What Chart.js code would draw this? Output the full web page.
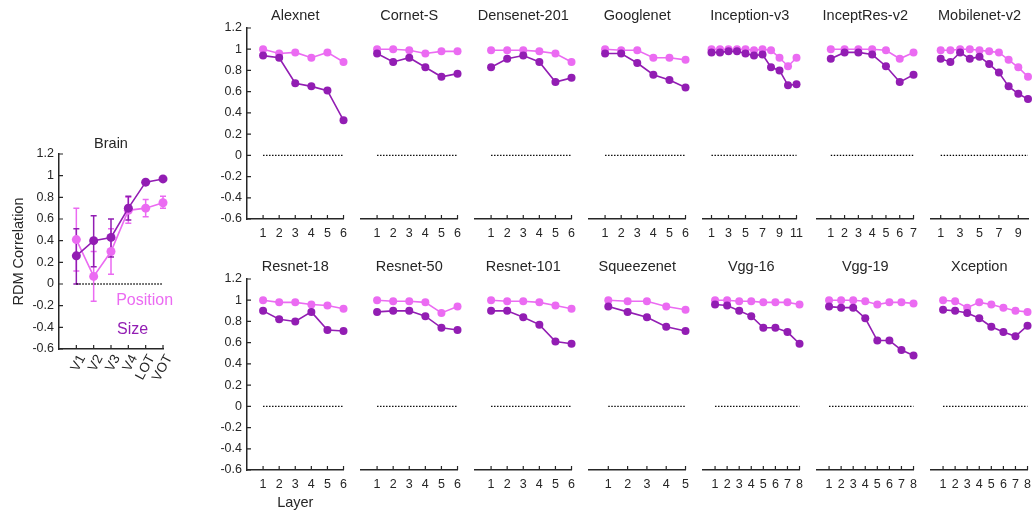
<!DOCTYPE html>
<html>
<head>
<meta charset="utf-8">
<script src="https://cdn.jsdelivr.net/npm/chart.js@4.4.1/dist/chart.umd.min.js"></script>
<style>
  html, body { margin: 0; padding: 0; background: #fff; overflow: hidden; }
  #fig { position: relative; width: 1034px; height: 512px; }
  #fig canvas { position: absolute; }
</style>
</head>
<body>
<div id="fig"></div>
<script>
// brain ROIs
const brainRegions = ['V1', 'V2', 'V3', 'V4', 'LOT', 'VOT'];
const brainPosition = [0.41, 0.07, 0.30, 0.68, 0.70, 0.75];
const brainPositionLo = [0.12, -0.16, 0.09, 0.56, 0.62, 0.70];
const brainPositionHi = [0.70, 0.30, 0.51, 0.80, 0.78, 0.81];
const brainSize = [0.26, 0.40, 0.43, 0.70, 0.94, 0.97];
const brainSizeLo = [0.00, 0.16, 0.25, 0.59, null, null];
const brainSizeHi = [0.51, 0.63, 0.60, 0.81, null, null];

// networks, top row then bottom row
const netNames = ['Alexnet', 'Cornet-S', 'Densenet-201', 'Googlenet', 'Inception-v3', 'InceptRes-v2', 'Mobilenet-v2',
  'Resnet-18', 'Resnet-50', 'Resnet-101', 'Squeezenet', 'Vgg-16', 'Vgg-19', 'Xception'];
const netTickStep = [1, 1, 1, 1, 2, 1, 2, 1, 1, 1, 1, 1, 1, 1];
const netPosition = [
  [1.00, 0.96, 0.97, 0.92, 0.97, 0.88],
  [1.00, 1.00, 0.99, 0.96, 0.98, 0.98],
  [0.99, 0.99, 0.99, 0.98, 0.96, 0.88],
  [1.00, 0.99, 0.99, 0.92, 0.92, 0.90],
  [1.00, 1.00, 1.00, 1.00, 1.00, 0.99, 1.00, 0.99, 0.92, 0.84, 0.92],
  [1.00, 1.00, 1.00, 1.00, 0.99, 0.91, 0.97],
  [0.99, 0.99, 1.00, 1.00, 0.99, 0.98, 0.97, 0.90, 0.83, 0.74],
  [1.00, 0.98, 0.98, 0.96, 0.95, 0.92],
  [1.00, 0.99, 0.99, 0.98, 0.88, 0.94],
  [1.00, 0.99, 0.99, 0.98, 0.95, 0.92],
  [1.00, 0.99, 0.99, 0.94, 0.91],
  [1.00, 1.00, 0.99, 0.99, 0.98, 0.98, 0.98, 0.96],
  [1.00, 1.00, 1.00, 0.99, 0.96, 0.98, 0.98, 0.97],
  [1.00, 0.99, 0.93, 0.98, 0.96, 0.93, 0.90, 0.89]
];
const netSize = [
  [0.94, 0.92, 0.68, 0.65, 0.61, 0.33],
  [0.96, 0.88, 0.92, 0.83, 0.74, 0.77],
  [0.83, 0.91, 0.94, 0.88, 0.69, 0.73],
  [0.96, 0.96, 0.87, 0.76, 0.71, 0.64],
  [0.97, 0.97, 0.98, 0.98, 0.96, 0.94, 0.95, 0.83, 0.80, 0.66, 0.67],
  [0.91, 0.97, 0.97, 0.95, 0.84, 0.69, 0.76],
  [0.91, 0.88, 0.97, 0.91, 0.93, 0.86, 0.78, 0.65, 0.58, 0.53],
  [0.90, 0.82, 0.80, 0.89, 0.72, 0.71],
  [0.89, 0.90, 0.90, 0.85, 0.74, 0.72],
  [0.90, 0.90, 0.84, 0.77, 0.61, 0.59],
  [0.94, 0.89, 0.84, 0.75, 0.71],
  [0.96, 0.95, 0.90, 0.85, 0.74, 0.74, 0.70, 0.59],
  [0.94, 0.93, 0.93, 0.83, 0.62, 0.62, 0.53, 0.48],
  [0.91, 0.90, 0.88, 0.83, 0.75, 0.70, 0.66, 0.76]
];

const PINK = '#eb6bf2', PURPLE = '#921db3', INK = '#262626';
const FONT = '"Liberation Sans", Arial, sans-serif';
const fig = document.getElementById('fig');

const pts = vals => vals.map((v, i) => ({ x: i + 1, y: v }));
const fmt = v => { const r = Math.round(v * 10) / 10; return r === 0 ? '0' : String(r); };

// titles, inward tick marks, error bars and in-plot labels
const deco = {
  id: 'deco',
  beforeDatasetsDraw(chart, args, o) {
    if (!o.errors) return;
    const { ctx, scales: { x, y } } = chart;
    ctx.save();
    ctx.lineWidth = 1.5;
    o.errors.forEach(e => {
      ctx.strokeStyle = e.color;
      e.lo.forEach((lo, i) => {
        if (lo == null) return;
        const px = x.getPixelForValue(i + 1), p0 = y.getPixelForValue(lo), p1 = y.getPixelForValue(e.hi[i]);
        ctx.beginPath();
        ctx.moveTo(px, p0); ctx.lineTo(px, p1);
        ctx.moveTo(px - 3, p0); ctx.lineTo(px + 3, p0);
        ctx.moveTo(px - 3, p1); ctx.lineTo(px + 3, p1);
        ctx.stroke();
      });
    });
    ctx.restore();
  },
  afterDraw(chart, args, o) {
    const { ctx, chartArea: a, scales: { x, y } } = chart;
    ctx.save();
    ctx.strokeStyle = INK; ctx.lineWidth = 1.2;
    ctx.beginPath();
    x.ticks.forEach(t => { const px = x.getPixelForValue(t.value); ctx.moveTo(px, a.bottom); ctx.lineTo(px, a.bottom - 4); });
    if (o.yAxis) y.ticks.forEach(t => { const py = y.getPixelForValue(t.value); ctx.moveTo(a.left, py); ctx.lineTo(a.left + 4, py); });
    ctx.stroke();
    ctx.fillStyle = INK; ctx.textAlign = 'center'; ctx.textBaseline = 'middle';
    ctx.font = `14.5px ${FONT}`;
    ctx.fillText(o.title, (a.left + a.right) / 2, a.top - o.titleGap);
    (o.notes || []).forEach(n => {
      ctx.fillStyle = n.color; ctx.textAlign = 'left'; ctx.font = `16px ${FONT}`;
      ctx.fillText(n.text, x.getPixelForValue(n.x), y.getPixelForValue(n.y));
    });
    ctx.restore();
  }
};

function panel(g, cfg) {
  const c = document.createElement('canvas');
  c.width = g.padL + g.w + g.padR;
  c.height = g.padT + g.h + g.axisH;
  c.style.left = (g.left - g.padL) + 'px';
  c.style.top = (g.top - g.padT) + 'px';
  fig.appendChild(c);
  const n = cfg.n;
  const line = (vals, color, r) => ({
    data: pts(vals), borderColor: color, backgroundColor: color,
    borderWidth: 1.6, pointRadius: r, pointBorderWidth: 0, tension: 0, clip: false
  });
  new Chart(c, {
    type: 'line',
    data: {
      datasets: [
        line(cfg.size, PURPLE, cfg.r),
        line(cfg.position, PINK, cfg.r),
        { data: [{ x: 1, y: 0 }, { x: n, y: 0 }], borderColor: '#000', borderWidth: 1.4,
          borderDash: [1.4, 1.6], pointRadius: 0, clip: false }
      ]
    },
    options: {
      responsive: false, animation: false, events: [],
      layout: { padding: { left: 0, top: g.padT, right: g.padR, bottom: 0 } },
      plugins: {
        legend: { display: false }, tooltip: { enabled: false },
        deco: { title: cfg.title, titleGap: cfg.titleGap, yAxis: cfg.yAxis, errors: cfg.errors, notes: cfg.notes }
      },
      scales: {
        x: {
          type: 'linear', min: 0, max: n,
          afterBuildTicks: s => { s.ticks = cfg.ticks.map(v => ({ value: v })); },
          afterFit: s => { s.height = g.axisH; },
          grid: { display: false, drawTicks: false },
          border: { display: true, color: INK, width: 1.5 },
          ticks: {
            autoSkip: false, minRotation: cfg.rot, maxRotation: cfg.rot, padding: cfg.rot ? 3 : 7,
            labelOffset: cfg.rot ? 6 : 0,
            color: INK, font: { family: FONT, size: cfg.rot ? 13.5 : 12.5 }, callback: cfg.tickLabel
          },
          title: cfg.xTitle ? { display: true, text: cfg.xTitle, color: INK, font: { family: FONT, size: 14.5 }, padding: 0 } : { display: false }
        },
        y: {
          min: -0.6, max: 1.2,
          afterFit: s => { s.width = g.padL; },
          grid: { display: false, drawTicks: false },
          border: { display: cfg.yAxis, color: INK, width: 1.5 },
          ticks: { display: cfg.yAxis, stepSize: 0.2, padding: 5, color: INK, font: { family: FONT, size: 12.5 }, callback: fmt },
          title: cfg.yTitle ? { display: true, text: cfg.yTitle, color: INK, font: { family: FONT, size: 14.5 }, padding: { top: 10, bottom: 0 } } : { display: false }
        }
      }
    },
    plugins: [deco]
  });
}

// brain panel
panel({ left: 59, top: 154, w: 104, h: 195, padL: 59, padT: 30, padR: 36, axisH: 50 }, {
  n: 6, r: 4.5, size: brainSize, position: brainPosition, title: 'Brain', titleGap: 10, yAxis: true,
  ticks: [1, 2, 3, 4, 5, 6], rot: 62, tickLabel: v => brainRegions[v - 1], yTitle: 'RDM Correlation',
  errors: [
    { lo: brainPositionLo, hi: brainPositionHi, color: PINK },
    { lo: brainSizeLo, hi: brainSizeHi, color: PURPLE }
  ],
  notes: [
    { text: 'Position', x: 3.3, y: -0.15, color: PINK },
    { text: 'Size', x: 3.35, y: -0.42, color: PURPLE }
  ]
});

// network panels
netNames.forEach((name, k) => {
  const col = k % 7, row = Math.floor(k / 7);
  const n = netSize[k].length, step = netTickStep[k];
  const ticks = [];
  for (let v = 1; v <= n; v += step) ticks.push(v);
  panel({ left: 247 + 114 * col, top: row ? 279 : 28, w: 97, h: 191, padL: 50, padT: 28, padR: 10, axisH: 42 }, {
    n, r: 4, size: netSize[k], position: netPosition[k], title: name, titleGap: 12, yAxis: col === 0,
    ticks, rot: 0, tickLabel: v => String(v), xTitle: (k === 7) ? 'Layer' : null
  });
});
</script>
</body>
</html>
